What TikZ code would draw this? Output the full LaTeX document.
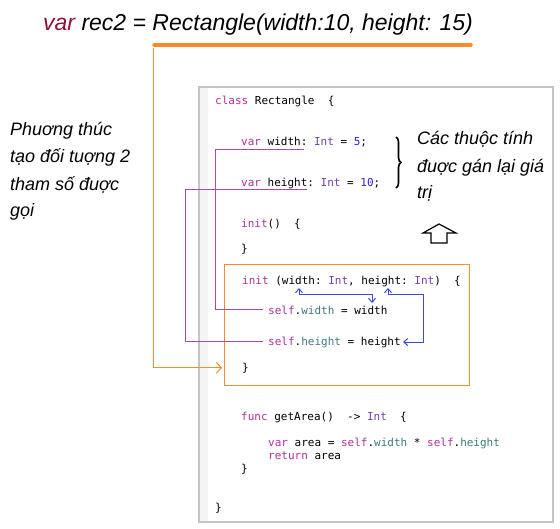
\documentclass[tikz,border=0pt]{standalone}
\usepackage{fontspec}
\setmonofont{DejaVu Sans Mono}
\newfontfamily\handfont{Liberation Sans}
\usetikzlibrary{arrows.meta,decorations.pathreplacing}

\definecolor{varred}{HTML}{8B1538}
\definecolor{kwpink}{HTML}{B0309A}
\definecolor{typurple}{HTML}{6F3FB0}
\definecolor{numblue}{HTML}{2A20D0}
\definecolor{propteal}{HTML}{3D7A80}
\definecolor{linkorange}{HTML}{FF8A2A}
\definecolor{linkpurple}{HTML}{A64CA6}
\definecolor{linkblue}{HTML}{3A4AD6}
\definecolor{framegray}{HTML}{C4C4C4}
\definecolor{guttergray}{HTML}{F4F4F4}

\newcommand{\kwd}[1]{\textcolor{kwpink}{#1}}
\newcommand{\typ}[1]{\textcolor{typurple}{#1}}
\newcommand{\cnum}[1]{\textcolor{numblue}{#1}}
\newcommand{\cprop}[1]{\textcolor{propteal}{#1}}

\begin{document}
\begin{tikzpicture}[x=1pt,y=-1pt]
\tikzset{code/.style={anchor=base west,inner sep=0pt,font=\ttfamily\fontsize{11}{13}\selectfont}}
\tikzset{note/.style={anchor=base west,inner sep=0pt,font=\handfont\itshape\fontsize{18}{27}\selectfont}}
\tikzset{wire/.style={linkpurple,line width=1pt}}
\tikzset{pass/.style={linkblue,line width=1pt,{Straight Barb[length=4pt,width=7pt]}-{Straight Barb[length=4pt,width=7pt]}}}

\useasboundingbox (0,0) rectangle (560,528);

% title call
\node[anchor=base west,inner sep=0pt,font=\handfont\itshape\fontsize{23}{26}\selectfont] (call) at (43,30)
  {\textcolor{varred}{var} rec2 = Rectangle(width:10, height: 15)};
\draw[linkorange,line width=3.5pt,line cap=round] (154,45) -- (471,45);

% code frame
\fill[guttergray] (199,87) rectangle (208,522);
\draw[framegray,line width=1.5pt] (199,87) rectangle (553,522);
\draw[linkorange,line width=1pt] (224,264) rectangle (469,385);

% code lines
\node[code] (cls) at (215,104) {\kwd{class} Rectangle\ \ \{};
\node[code] (vw) at (241,145) {\kwd{var} width: \typ{Int} = \cnum{5};};
\node[code] (vh) at (241,186) {\kwd{var} height: \typ{Int} = \cnum{10};};
\node[code] (ini) at (241,227) {\kwd{init}()\ \ \{};
\node[code] (inie) at (241,252) {\}};
\node[code] (ip) at (242,284) {\kwd{init} (width: \typ{Int}, height: \typ{Int})\ \ \{};
\node[code] (sw) at (268,314) {\kwd{self}.\cprop{width} = width};
\node[code] (sh) at (268,345) {\kwd{self}.\cprop{height} = height};
\node[code] (ipe) at (242,371) {\}};
\node[code] (ga) at (241,420) {\kwd{func} getArea()\ \ -> \typ{Int}\ \ \{};
\node[code] (ar) at (268,446) {\kwd{var} area = \kwd{self}.\cprop{width} * \kwd{self}.\cprop{height}};
\node[code] (rt) at (268,459) {\kwd{return} area};
\node[code] (gae) at (241,472) {\}};
\node[code] (cle) at (215,511) {\}};

% notes
\node[note] (n1) at (10,135) {Phuơng thúc};
\node[note] (n2) at (10,162) {tạo đối tuợng 2};
\node[note] (n3) at (10,190) {tham số đuợc};
\node[note] (n4) at (10,216) {gọi};
\node[note] (m1) at (417,144) {Các thuộc tính};
\node[note] (m2) at (417,172) {đuợc gán lại giá};
\node[note] (m3) at (417,198) {trị};

\draw[decorate,decoration={brace,amplitude=5pt},line width=1.6pt] (396,137) -- (396,188);
\draw[line width=1.2pt,fill=white] (439,224) -- (456,233) -- (447,233) -- (447,243)
  -- (431,243) -- (431,233) -- (423,233) -- cycle;

% links
\coordinate (wtail) at (304,149);
\coordinate (htail) at (307,189);
\coordinate (callfoot) at (153.5,48);
\coordinate (pwidth) at (299,288);
\coordinate (pheight) at (388,288);
\coordinate (swidth) at (372,303);
\coordinate (sheight) at (403,342);

\draw[linkorange,line width=1pt,-{Straight Barb[length=5pt,width=11pt]}] (callfoot) |- ([xshift=-2pt]ipe.west -| 224,0);
\draw[wire] (wtail) -| ([xshift=-53pt]sw.west) -- ([xshift=-5pt]sw.west);
\draw[wire] (htail) -| ([xshift=-83pt]sh.west) -- ([xshift=-5pt]sh.west);
\draw[pass] (pwidth) -- ++(0,6) -| (swidth);
\draw[pass] (pheight) -- ++(0,6) -| ++(35,48) -- (sheight);

\end{tikzpicture}
\end{document}
